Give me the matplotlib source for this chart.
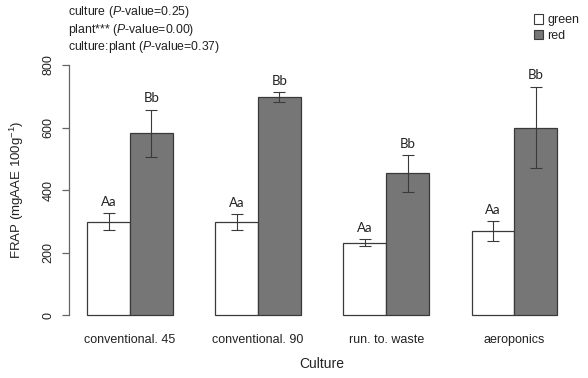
import matplotlib
matplotlib.use("Agg")
import matplotlib.pyplot as plt
from matplotlib.patches import Patch
import numpy as np

plt.rcParams['font.family'] = ['Liberation Sans', 'DejaVu Sans']
plt.rcParams['mathtext.fontset'] = 'custom'
plt.rcParams['mathtext.rm'] = 'Liberation Sans'
plt.rcParams['mathtext.it'] = 'Liberation Sans:italic'

# data
cultures = ["conventional. 45", "conventional. 90", "run. to. waste", "aeroponics"]
green_mean = [298, 297, 232, 268]
green_err = [27, 25, 10, 32]
red_mean = [582, 697, 453, 600]
red_err = [75, 15, 58, 131]
green_letters = ["Aa", "Aa", "Aa", "Aa"]
red_letters = ["Bb", "Bb", "Bb", "Bb"]
pvalue_lines = [r"culture ($\it{P}$-value=0.25)",
                r"plant*** ($\it{P}$-value=0.00)",
                r"culture:plant ($\it{P}$-value=0.37)"]

axis_col = "#666666"
edge_col = "#3a3a3a"
txt_col = "#222222"

fig = plt.figure(figsize=(5.88, 3.78), dpi=100)
ax = fig.add_axes([0.1165, 0.1402, 0.8627, 0.7143])

# R barplot layout: bar width 1, group gap 1
xg = 1.5 + 3 * np.arange(len(cultures))
xr = xg + 1

ax.bar(xg, green_mean, width=1, color="white", edgecolor=edge_col, linewidth=0.9)
ax.bar(xr, red_mean, width=1, color="#767676", edgecolor=edge_col, linewidth=0.9)
ax.errorbar(xg, green_mean, yerr=green_err, fmt="none", ecolor=edge_col,
            elinewidth=0.8, capsize=4, capthick=0.8)
ax.errorbar(xr, red_mean, yerr=red_err, fmt="none", ecolor=edge_col,
            elinewidth=0.8, capsize=4, capthick=0.8)

for i in range(len(cultures)):
    ax.annotate(green_letters[i], (xg[i], green_mean[i] + green_err[i]),
                xytext=(0, 4), textcoords="offset points", ha="center", va="bottom",
                fontsize=9.5, family="Lato", color=txt_col)
    ax.annotate(red_letters[i], (xr[i], red_mean[i] + red_err[i]),
                xytext=(0, 4), textcoords="offset points", ha="center", va="bottom",
                fontsize=9.5, family="Lato", color=txt_col)

ax.set_xlim(0.56, 12.44)
ax.set_ylim(-32, 832)
ax.set_yticks([0, 200, 400, 600, 800])
ax.set_xticks(xg + 0.5)
ax.set_xticklabels(cultures)
ax.tick_params(axis="x", length=0, pad=6.5, labelsize=9, labelcolor=txt_col)
ax.tick_params(axis="y", length=5, width=0.9, color=axis_col, pad=5,
               labelsize=9, labelcolor=txt_col)
for lab in ax.get_yticklabels():
    lab.set_rotation(90)
    lab.set_va("center")

for s in ["top", "right", "bottom"]:
    ax.spines[s].set_visible(False)
ax.spines["left"].set_bounds(0, 800)
ax.spines["left"].set_color(axis_col)
ax.spines["left"].set_linewidth(0.9)

ax.set_xlabel("Culture", fontsize=10, color=txt_col, labelpad=8)
ax.set_ylabel(r"FRAP (mgAAE 100g$^{-1}$)", fontsize=9.5, color=txt_col, labelpad=12)

for i, line in enumerate(pvalue_lines):
    fig.text(68 / 588, 1 - (12 + 17.5 * i) / 378, line, fontsize=8.8,
             color=txt_col, va="center", ha="left")

handles = [Patch(facecolor="white", edgecolor=edge_col, linewidth=0.8),
           Patch(facecolor="#767676", edgecolor=edge_col, linewidth=0.8)]
fig.legend(handles, ["green", "red"], loc="upper left", bbox_to_anchor=(0.893, 0.985),
           frameon=False, fontsize=9, handlelength=0.75, handleheight=0.75,
           handletextpad=0.35, labelspacing=0.3, borderaxespad=0.3,
           labelcolor=txt_col)

fig.savefig("out.png", dpi=100)
